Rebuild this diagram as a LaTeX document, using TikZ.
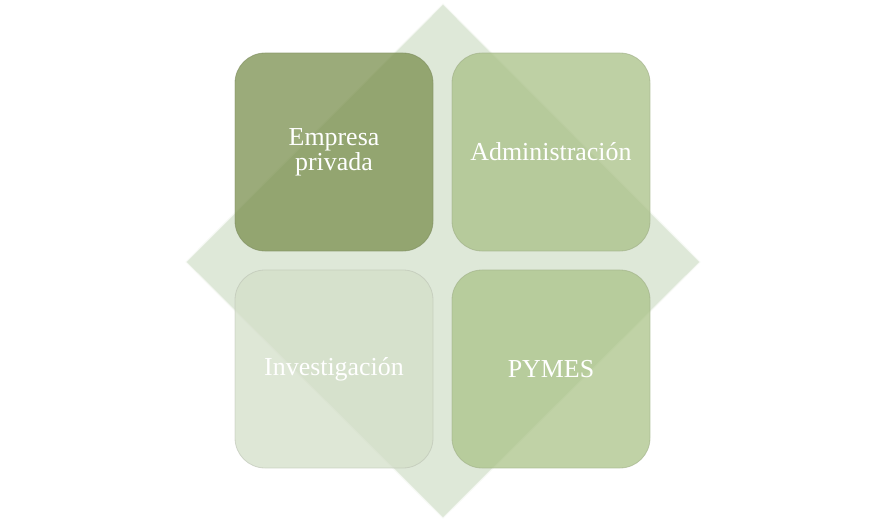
\documentclass[tikz,border=0pt]{standalone}
\usepackage{fontspec}
\setmainfont{Liberation Serif}
\usepackage{tikz}
\usetikzlibrary{positioning}
\usepackage{xcolor}
\definecolor{olivedark}{RGB}{124, 145, 80}
\definecolor{olivemid}{RGB}{170, 193, 136}
\definecolor{olivelight}{RGB}{172, 196, 138}
\definecolor{olivepale}{RGB}{212, 223, 201}
\definecolor{diamondgreen}{RGB}{222, 232, 216}

\begin{document}
\begin{tikzpicture}[
  x=1bp, y=-1bp,
  every node/.style={font=\fontsize{26}{25}\selectfont, text=white, align=center},
  tile/.style={rounded corners=30bp, minimum width=198bp, minimum height=198bp, fill opacity=0.76, draw opacity=0.6, text opacity=1, line width=0.8pt},
]
  \useasboundingbox (0,0) rectangle (886,522);
  % backdrop
  \draw[fill=diamondgreen, draw=white!70!diamondgreen, line width=1pt] (443,4) -- (700,262) -- (443,518) -- (186,262) -- cycle;

  \node[tile, fill=olivedark, draw=olivedark!70!gray] (empresa) at (334,152) {Empresa\\privada};
  \node[tile, fill=olivemid, draw=olivemid!70!gray] (admin) at (551,152) {Administración};
  \node[tile, fill=olivepale, draw=olivepale!70!gray] (invest) at (334,369) {Investigación};
  \node[tile, fill=olivelight, draw=olivelight!70!gray] (pymes) at (551,369) {PYMES};
\end{tikzpicture}
\end{document}
